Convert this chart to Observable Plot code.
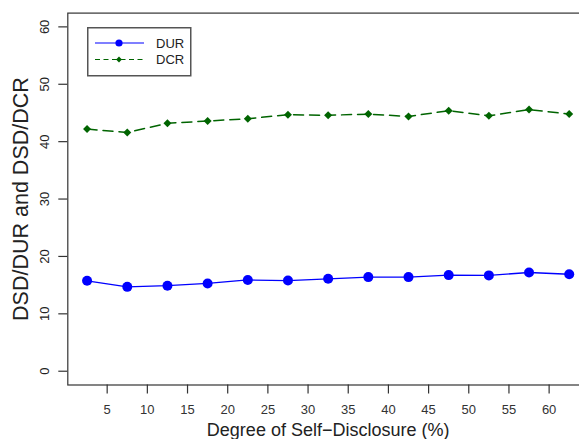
<!DOCTYPE html>
<html><head><meta charset="utf-8">
<script src="https://cdn.jsdelivr.net/npm/d3@7"></script>
<script src="https://cdn.jsdelivr.net/npm/@observablehq/plot@0.6"></script>
<style>
html,body{margin:0;padding:0;background:#fff;overflow:hidden;}
#wrap{position:relative;width:579px;height:439px;overflow:hidden;font-family:"Liberation Sans",Arial,sans-serif;}
#wrap > svg.plot{max-width:none !important;display:block;}
#legend{position:absolute;left:86.5px;top:26.5px;}
</style></head><body><div id="wrap"></div>
<script>
const degree = [2.5, 7.5, 12.5, 17.5, 22.5, 27.5, 32.5, 37.5, 42.5, 47.5, 52.5, 57.5, 62.5];
const dur = [15.75, 14.7, 14.9, 15.3, 15.9, 15.8, 16.1, 16.4, 16.4, 16.75, 16.7, 17.2, 16.9];
const dcr = [42.2, 41.6, 43.2, 43.6, 44.0, 44.7, 44.6, 44.8, 44.4, 45.4, 44.5, 45.6, 44.8];
const xTicks = [5, 10, 15, 20, 25, 30, 35, 40, 45, 50, 55, 60];
const yTicks = [0, 10, 20, 30, 40, 50, 60];
const seriesNames = ["DUR", "DCR"];
const xTitle = "Degree of Self\u2212Disclosure (%)";
const yTitle = "DSD/DUR and DSD/DCR";

const durData = degree.map((x, i) => ({x, v: dur[i]}));
const dcrData = degree.map((x, i) => ({x, v: dcr[i]}));

const blue = "#0000ff", green = "#006400";

const chart = Plot.plot({
  width: 588, height: 439,
  marginLeft: 67.3, marginRight: 0, marginTop: 12.6, marginBottom: 54.5,
  style: {fontFamily: '"Liberation Sans", Arial, sans-serif', background: "#fff", color: "#222", maxWidth: "none"},
  x: {domain: [0.1, 64.9]},
  y: {domain: [-2.4, 62.4]},
  marks: [
    Plot.axisX(xTicks, {tickSize: 9, tickPadding: 11, fontSize: 13, label: null, color: "#333", strokeWidth: 1.2}),
    Plot.axisY(yTicks, {tickSize: 9, tickFormat: () => "", label: null, color: "#333", strokeWidth: 1.2}),
    Plot.text(yTicks, {y: d => d, text: d => String(d), frameAnchor: "left", textAnchor: "middle", lineAnchor: "middle", dx: -22.5, rotate: -90, fontSize: 13, fill: "#222"}),
    Plot.text([xTitle], {frameAnchor: "bottom", textAnchor: "middle", lineAnchor: "middle", dy: 45.5, text: d => d, fontSize: 18, fill: "#222"}),
    Plot.text([yTitle], {frameAnchor: "left", textAnchor: "middle", lineAnchor: "middle", dx: -47, rotate: -90, text: d => d, fontSize: 21.5, fill: "#222"}),
    Plot.frame({stroke: "#333", strokeWidth: 1.2}),
    Plot.line(dcrData, {x: "x", y: "v", stroke: green, strokeWidth: 1.5, strokeDasharray: "10,6"}),
    Plot.dot(dcrData, {x: "x", y: "v", symbol: "diamond2", r: 3.6, fill: green, stroke: "none"}),
    Plot.line(durData, {x: "x", y: "v", stroke: blue, strokeWidth: 1.3}),
    Plot.dot(durData, {x: "x", y: "v", r: 5, fill: blue, stroke: "none"})
  ]
});
chart.style.maxWidth = "none";
const wrap = document.getElementById("wrap");
wrap.appendChild(chart);

// legend
const lg = d3.select(wrap).append("svg").attr("id", "legend").attr("width", 106).attr("height", 51);
lg.append("rect").attr("x", 0.75).attr("y", 0.75).attr("width", 103).attr("height", 48).attr("fill", "#fff").attr("stroke", "#555").attr("stroke-width", 1.5);
const rows = [
  {name: seriesNames[0], color: blue, dash: null, y: 16},
  {name: seriesNames[1], color: green, dash: "5,3.5", y: 32.5}
];
rows.forEach((r, i) => {
  lg.append("line").attr("x1", 8).attr("x2", 57).attr("y1", r.y).attr("y2", r.y)
    .attr("stroke", r.color).attr("stroke-width", 1.2).attr("stroke-dasharray", r.dash);
  if (i === 0) lg.append("circle").attr("cx", 32).attr("cy", r.y).attr("r", 3.6).attr("fill", r.color);
  else lg.append("path").attr("d", d3.symbol(d3.symbolDiamond2, 22)()).attr("transform", `translate(32,${r.y})`).attr("fill", r.color);
  lg.append("text").attr("x", 69).attr("y", r.y).attr("dy", "0.36em").attr("font-size", 13)
    .attr("fill", "#222").attr("font-family", '"Liberation Sans", Arial, sans-serif').text(r.name);
});
</script></body></html>
